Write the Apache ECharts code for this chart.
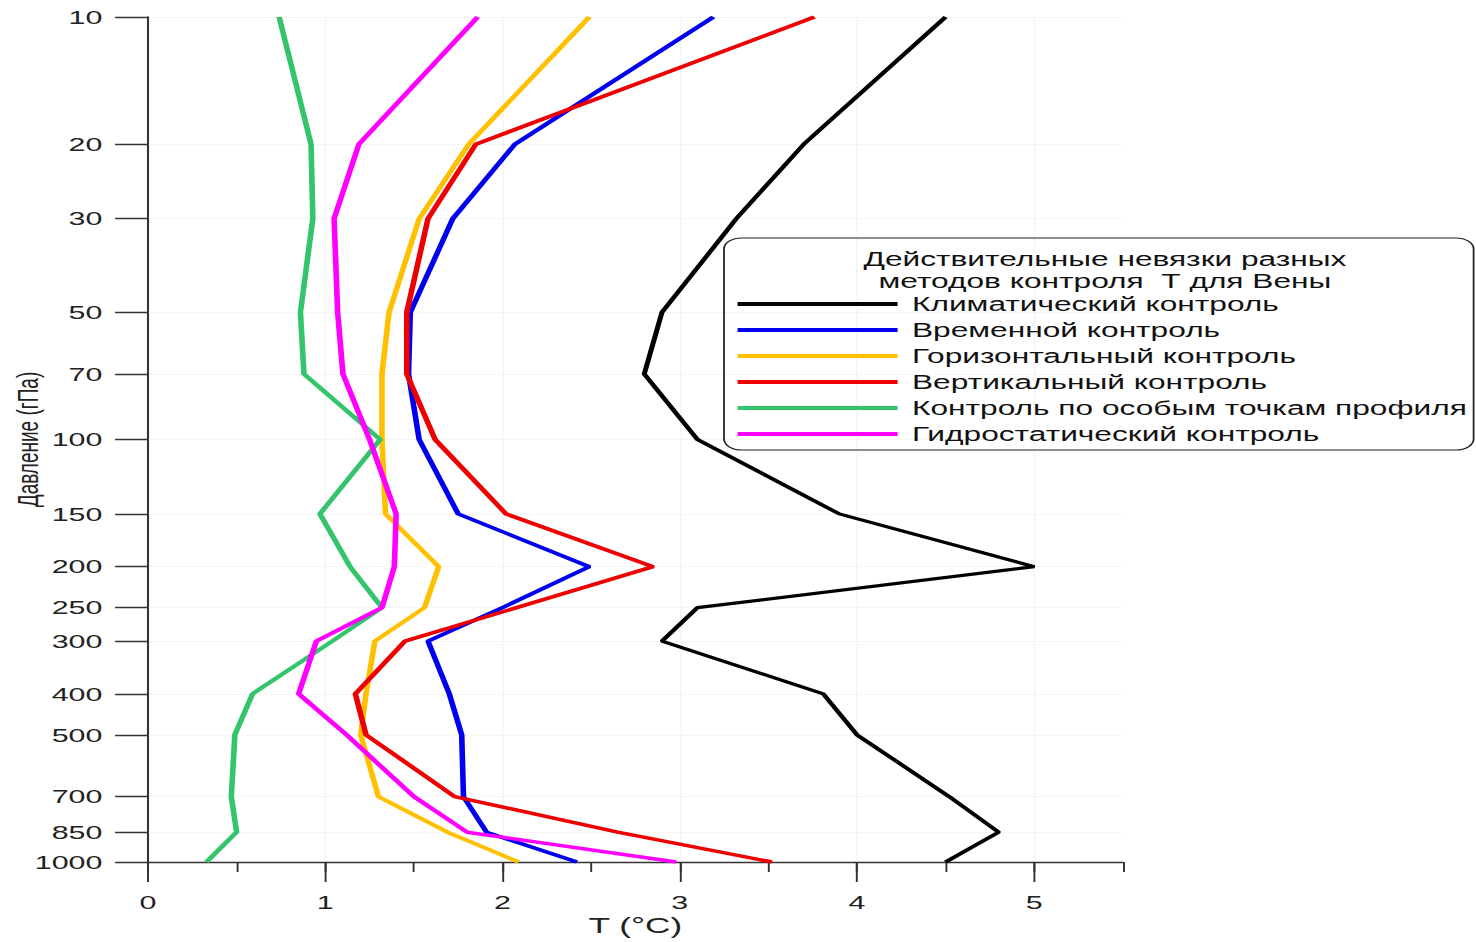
<!DOCTYPE html>
<html>
<head>
<meta charset="utf-8">
<script src="https://cdn.jsdelivr.net/npm/echarts@6/dist/echarts.min.js"></script>
<style>
html, body { margin: 0; padding: 0; background: #fff; overflow: hidden; }
#wrap { width: 1476px; height: 942px; overflow: hidden; position: relative; }
#c { width: 922.5px; height: 942px; transform: scaleX(1.6); transform-origin: 0 0; }
</style>
</head>
<body>
<div id="wrap"><div id="c"></div></div>
<script>
// Pressure levels (hPa)
const levels = [10, 20, 30, 50, 70, 100, 150, 200, 250, 300, 400, 500, 700, 850, 1000];
// X-axis tick labels
const xLabels = [0, 1, 2, 3, 4, 5];

const seriesNames = [
  'Климатический контроль',
  'Временной контроль',
  'Горизонтальный контроль',
  'Вертикальный контроль',
  'Контроль по особым точкам профиля',
  'Гидростатический контроль'
];
const legendTitle = 'Действительные невязки разных\nметодов контроля  Т для Вены';

// Values (°C) per level, top (10 hPa) to bottom (1000 hPa)
const climatic   = [4.50, 3.70, 3.32, 2.90, 2.80, 3.10, 3.90, 5.00, 3.10, 2.90, 3.81, 4.00, 4.52, 4.80, 4.50];
const temporal   = [3.19, 2.07, 1.72, 1.48, 1.47, 1.53, 1.75, 2.49, 2.00, 1.58, 1.70, 1.77, 1.78, 1.91, 2.42];
const horizontal = [2.49, 1.81, 1.53, 1.36, 1.32, 1.32, 1.34, 1.64, 1.56, 1.28, 1.23, 1.20, 1.30, 1.69, 2.09];
const vertical   = [3.76, 1.85, 1.58, 1.46, 1.46, 1.62, 2.02, 2.85, 2.08, 1.45, 1.17, 1.23, 1.73, 2.65, 3.52];
const profile    = [0.74, 0.92, 0.93, 0.86, 0.88, 1.31, 0.97, 1.14, 1.32, 1.04, 0.59, 0.49, 0.47, 0.50, 0.33];
const hydro      = [1.86, 1.19, 1.05, 1.07, 1.10, 1.25, 1.40, 1.39, 1.32, 0.95, 0.85, 1.12, 1.50, 1.80, 2.98];

const colors = ['#000000', '#0000ee', '#ffc000', '#ee0000', '#33c46c', '#ff00ff'];
const allValues = [climatic, temporal, horizontal, vertical, profile, hydro];

const FONT = '"Liberation Sans", Arial, Helvetica, sans-serif';
const logLevels = levels.map(p => Math.log10(p));
const yMin = Math.log10(levels[0]);
const yMax = Math.log10(levels[levels.length - 1]);

const series = allValues.map((vals, k) => ({
  name: seriesNames[k],
  type: 'line',
  xAxisIndex: 0,
  yAxisIndex: 0,
  data: vals.map((v, i) => [v, logLevels[i]]),
  symbol: 'none',
  showSymbol: false,
  lineStyle: { color: colors[k], width: k === 0 ? 3.2 : 3.5 },
  itemStyle: { color: colors[k] },
  color: colors[k],
  animation: false,
  silent: true
}));

const axisColor = '#333';
const gridColor = '#ececec';

const chart = echarts.init(document.getElementById('c'), null, { renderer: 'svg' });
chart.setOption({
  animation: false,
  backgroundColor: '#fff',
  textStyle: { fontFamily: FONT },
  grid: { left: 92.5, right: 221.25, top: 17, bottom: 80, containLabel: false, outerBoundsMode: 'none' },
  xAxis: [
    {
      type: 'value', min: 0, max: 5.5, interval: 0.5, position: 'bottom',
      axisLine: { show: true, onZero: false, lineStyle: { color: axisColor, width: 1.4 } },
      axisTick: { show: true, length: 10, lineStyle: { color: axisColor, width: 1.2 } },
      axisLabel: {
        formatter: v => (Number.isInteger(v) ? String(v) : ''),
        margin: 31, fontSize: 19, color: '#222', fontFamily: FONT
      },
      splitLine: { show: false },
      name: 'T (°C)', nameLocation: 'middle', nameGap: 52, nameMoveOverlap: false,
      nameTextStyle: { fontSize: 22, color: '#222', fontFamily: FONT }
    },
    {
      type: 'value', min: 0, max: 5.5, position: 'bottom',
      axisLine: { show: false, onZero: false },
      axisTick: { show: true, customValues: xLabels, length: 20, lineStyle: { color: axisColor, width: 1.2 } },
      axisLabel: { show: false },
      splitLine: { show: true, lineStyle: { color: gridColor, type: 'dotted', width: 1 } }
    }
  ],
  yAxis: {
    type: 'value', inverse: true, min: yMin, max: yMax,
    axisLine: { show: true, onZero: false, lineStyle: { color: axisColor, width: 1.3 } },
    axisTick: { show: true, customValues: logLevels, length: 20.6, lineStyle: { color: axisColor, width: 1.3 } },
    axisLabel: {
      customValues: logLevels,
      formatter: v => String(Math.round(Math.pow(10, v))),
      margin: 28.5, fontSize: 19, color: '#222', fontFamily: FONT
    },
    splitLine: { show: true, lineStyle: { color: gridColor, type: 'dotted', width: 1 } },
    name: 'Давление (гПа)', nameLocation: 'middle', nameRotate: 90, nameGap: 66, nameMoveOverlap: false,
    nameTextStyle: { fontSize: 19, color: '#222', fontFamily: FONT }
  },
  legend: {
    data: seriesNames, orient: 'vertical', left: 461, top: 294,
    itemWidth: 100, itemHeight: 4, itemGap: 6, icon: 'rect', padding: 0,
    selectedMode: false,
    textStyle: { fontSize: 19.8, color: '#111', lineHeight: 20, fontFamily: FONT, padding: [0, 0, 0, 4] }
  },
  graphic: [
    {
      type: 'rect', z: 100, silent: true,
      shape: { x: 452.5, y: 238, width: 468.5, height: 212, r: 11 },
      style: { fill: 'none', stroke: '#222', lineWidth: 1.1 }
    },
    {
      type: 'text', z: 101, silent: true,
      x: 690.6, y: 270,
      style: {
        text: legendTitle, align: 'center', verticalAlign: 'middle',
        fontSize: 19.8, lineHeight: 22, fontFamily: FONT, fill: '#111'
      }
    }
  ],
  series: series
});
</script>
</body>
</html>
